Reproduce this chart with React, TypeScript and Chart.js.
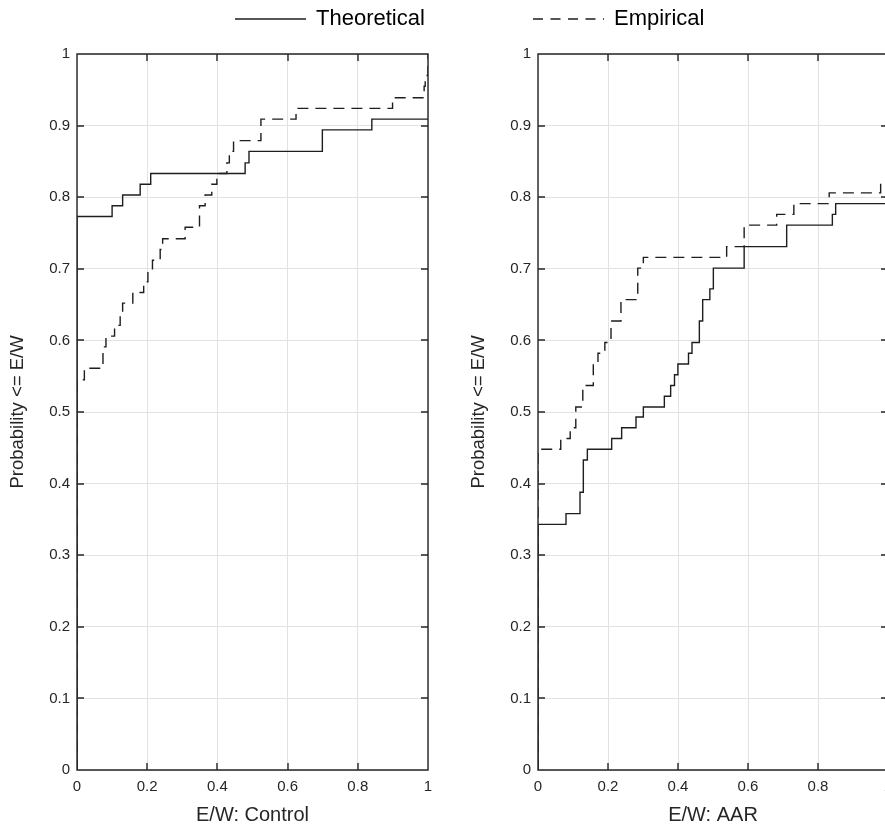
import React, { useEffect, useRef } from "react";
import { Chart, registerables } from "chart.js";

Chart.register(...registerables);

// ---------------- data ----------------
const legendLabels = ["Theoretical", "Empirical"];
const yAxisTitle = "Probability <= E/W";
const controlTitle = "E/W: Control";
const aarTitle = "E/W: AAR";

// Left panel: E/W Control (step positions and CDF levels)
const controlTheoreticalX = [0, 0, 0.1, 0.13, 0.18, 0.21, 0.479, 0.49, 0.699, 0.84, 1.0];
const controlTheoreticalY = [0, 0.773, 0.788, 0.803, 0.818, 0.833, 0.848, 0.864, 0.894, 0.909, 0.909];

const controlEmpiricalX = [
  0, 0, 0.021, 0.074, 0.0825, 0.107, 0.123, 0.13, 0.159, 0.19, 0.202, 0.215, 0.237, 0.244,
  0.308, 0.349, 0.365, 0.384, 0.3985, 0.427, 0.434, 0.446, 0.524, 0.624, 0.899, 0.989, 0.992, 1.0,
];
const controlEmpiricalY = [
  0, 0.545, 0.561, 0.591, 0.606, 0.621, 0.636, 0.652, 0.667, 0.682, 0.697, 0.712, 0.727, 0.742,
  0.758, 0.788, 0.803, 0.818, 0.833, 0.848, 0.864, 0.879, 0.909, 0.924, 0.939, 0.955, 0.97, 1.0,
];

// Right panel: E/W AAR
const aarTheoreticalX = [
  0, 0, 0.08, 0.12, 0.1295, 0.141, 0.2105, 0.239, 0.28, 0.301, 0.361, 0.379, 0.39, 0.3997,
  0.43, 0.44, 0.461, 0.4705, 0.491, 0.501, 0.589, 0.7105, 0.841, 0.8505, 1.0,
];
const aarTheoreticalY = [
  0, 0.343, 0.358, 0.388, 0.433, 0.448, 0.463, 0.478, 0.493, 0.507, 0.522, 0.537, 0.552, 0.567,
  0.582, 0.597, 0.627, 0.657, 0.672, 0.701, 0.731, 0.761, 0.776, 0.791, 0.791,
];

const aarEmpiricalX = [
  0, 0, 0.065, 0.092, 0.108, 0.128, 0.158, 0.1714, 0.191, 0.2086, 0.237, 0.285, 0.301, 0.539,
  0.589, 0.682, 0.731, 0.832, 0.979, 1.0,
];
const aarEmpiricalY = [
  0, 0.448, 0.463, 0.478, 0.507, 0.537, 0.567, 0.582, 0.597, 0.627, 0.657, 0.701, 0.716, 0.731,
  0.761, 0.776, 0.791, 0.806, 0.821, 0.821,
];

// ---------------- styling ----------------
const FONT = "'Liberation Sans', Arial, Helvetica, sans-serif";
const INK = "#262626";
const LINE = "#1e1e1e";
const GRID = "#e2e2e2";
const DASH = [11, 7];
const H = 827;

function toPoints(xs: number[], ys: number[]) {
  return xs.map((x, i) => ({ x, y: ys[i] }));
}

function fmtTick(v: number | string) {
  return String(Math.round(Number(v) * 10) / 10);
}

const boxPlugin = {
  id: "matlabBox",
  afterDatasetsDraw(chart: any) {
    const { ctx, chartArea: a, scales } = chart;
    const xs = scales.x;
    const ys = scales.y;
    const L = Math.round(a.left);
    const R = Math.round(a.right);
    const T = Math.round(a.top);
    const B = Math.round(a.bottom);
    const tick = 7;
    ctx.save();
    ctx.strokeStyle = INK;
    ctx.lineWidth = 1.4;
    ctx.beginPath();
    ctx.rect(L, T, R - L, B - T);
    for (const t of xs.ticks) {
      const px = Math.round(xs.getPixelForValue(t.value));
      ctx.moveTo(px, B);
      ctx.lineTo(px, B - tick);
      ctx.moveTo(px, T);
      ctx.lineTo(px, T + tick);
    }
    for (const t of ys.ticks) {
      const py = Math.round(ys.getPixelForValue(t.value));
      ctx.moveTo(L, py);
      ctx.lineTo(L + tick, py);
      ctx.moveTo(R, py);
      ctx.lineTo(R - tick, py);
    }
    ctx.stroke();
    ctx.restore();
  },
};

function makeConfig(
  theoX: number[],
  theoY: number[],
  empX: number[],
  empY: number[],
  xTitle: string
): any {
  return {
    type: "line",
    data: {
      datasets: [
        {
          label: legendLabels[0],
          data: toPoints(theoX, theoY),
          borderColor: LINE,
          borderWidth: 1.4,
          pointRadius: 0,
          stepped: "before",
          fill: false,
        },
        {
          label: legendLabels[1],
          data: toPoints(empX, empY),
          borderColor: LINE,
          borderWidth: 1.4,
          borderDash: DASH,
          pointRadius: 0,
          stepped: "before",
          fill: false,
        },
      ],
    },
    options: {
      animation: false,
      responsive: false,
      events: [],
      layout: { padding: { top: 54, right: 13, left: 0, bottom: 0 } },
      plugins: { legend: { display: false }, tooltip: { enabled: false } },
      scales: {
        x: {
          type: "linear",
          min: 0,
          max: 1,
          ticks: {
            stepSize: 0.2,
            color: INK,
            font: { family: FONT, size: 15 },
            padding: 8,
            maxRotation: 0,
            autoSkip: false,
            callback: fmtTick,
          },
          grid: { color: GRID, lineWidth: 1, drawTicks: false },
          border: { display: false },
          title: {
            display: true,
            text: xTitle,
            color: INK,
            font: { family: FONT, size: 20 },
            padding: { top: 0, bottom: 0 },
          },
          afterFit: (s: any) => {
            s.height = 57;
          },
        },
        y: {
          type: "linear",
          min: 0,
          max: 1,
          ticks: {
            stepSize: 0.1,
            color: INK,
            font: { family: FONT, size: 15 },
            padding: 7,
            autoSkip: false,
            callback: fmtTick,
          },
          grid: { color: GRID, lineWidth: 1, drawTicks: false },
          border: { display: false },
          title: {
            display: true,
            text: yAxisTitle,
            color: INK,
            font: { family: FONT, size: 18.5 },
            padding: { top: 7, bottom: 0 },
          },
          afterFit: (s: any) => {
            s.width = 77;
          },
        },
      },
    },
    plugins: [boxPlugin],
  };
}

function Panel({ left, width, config }: { left: number; width: number; config: () => any }) {
  const ref = useRef<HTMLCanvasElement>(null);
  useEffect(() => {
    const chart = new Chart(ref.current as HTMLCanvasElement, config());
    return () => chart.destroy();
  }, []);
  return (
    <canvas
      ref={ref}
      width={width}
      height={H}
      style={{ position: "absolute", left, top: 0, width, height: H }}
    />
  );
}

export default function App() {
  const legendFont = 22;
  const textStyle = (left: number): React.CSSProperties => ({
    position: "absolute",
    left,
    top: 18 - legendFont / 2,
    fontFamily: FONT,
    fontSize: legendFont,
    lineHeight: `${legendFont}px`,
    color: "#000",
    whiteSpace: "nowrap",
  });
  return (
    <div
      style={{
        position: "absolute",
        left: 0,
        top: 0,
        width: 885,
        height: H,
        overflow: "hidden",
        background: "#fff",
      }}
    >
      <Panel
        left={0}
        width={441}
        config={() =>
          makeConfig(controlTheoreticalX, controlTheoreticalY, controlEmpiricalX, controlEmpiricalY, controlTitle)
        }
      />
      <Panel
        left={461}
        width={440}
        config={() => makeConfig(aarTheoreticalX, aarTheoreticalY, aarEmpiricalX, aarEmpiricalY, aarTitle)}
      />
      <svg width={885} height={40} style={{ position: "absolute", left: 0, top: 0 }}>
        <line x1={235} y1={19} x2={306} y2={19} stroke={LINE} strokeWidth={1.4} />
        <line
          x1={533}
          y1={19}
          x2={604}
          y2={19}
          stroke={LINE}
          strokeWidth={1.4}
          strokeDasharray="10 7.5"
        />
      </svg>
      <div style={textStyle(316)}>{legendLabels[0]}</div>
      <div style={textStyle(614)}>{legendLabels[1]}</div>
    </div>
  );
}
